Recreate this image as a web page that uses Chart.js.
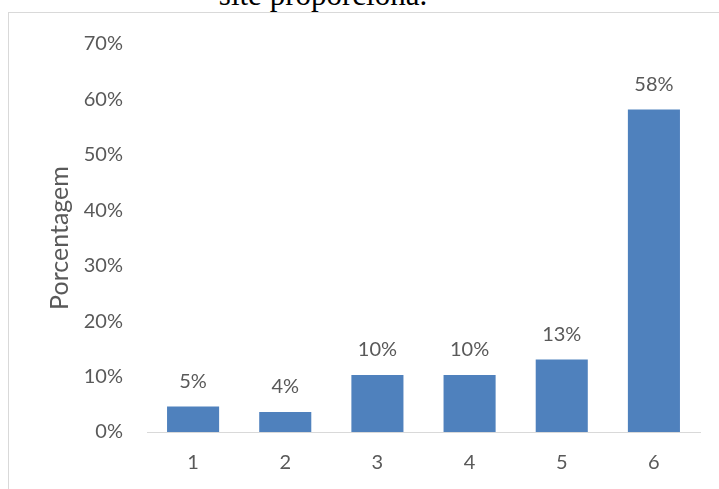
<!DOCTYPE html>
<html>
<head>
<meta charset="utf-8">
<script src="https://cdn.jsdelivr.net/npm/chart.js@4/dist/chart.umd.min.js"></script>
<style>
  html, body { margin: 0; padding: 0; background: #fff; overflow: hidden; }
  #wrap { position: relative; width: 719px; height: 489px; overflow: hidden; }
  #frame {
    position: absolute; left: 8px; top: 12px; width: 740px; height: 520px;
    border: 1px solid #D9D9D9; box-sizing: border-box;
  }
  #caption {
    position: absolute; left: 0; width: 646px; top: -23px; text-align: center;
    font-family: "Liberation Serif", "Times New Roman", serif; font-size: 31px;
    line-height: 36px; color: #000; white-space: nowrap;
  }
  #c { position: absolute; left: 0; top: 0; }
</style>
</head>
<body>
<div id="wrap">
  <div id="caption">site proporciona.</div>
  <div id="frame"></div>
  <canvas id="c" width="719" height="489"></canvas>
</div>
<script>
// Categories on the x axis and the share (in %) for each one
const categories = ['1', '2', '3', '4', '5', '6'];
const percentages = [4.6, 3.6, 10.3, 10.3, 13.1, 58.2];
const yTicks = [0, 10, 20, 30, 40, 50, 60, 70];
const yAxisTitle = 'Porcentagem';

const textColor = '#595959';
const fontFamily = 'Lato, "Open Sans", sans-serif';

// Writes the rounded percentage above each bar
const barValueLabels = {
  id: 'barValueLabels',
  afterDatasetsDraw(chart) {
    const ctx = chart.ctx;
    const meta = chart.getDatasetMeta(0);
    const data = chart.data.datasets[0].data;
    ctx.save();
    ctx.fillStyle = textColor;
    ctx.font = '20px ' + fontFamily;
    ctx.textAlign = 'center';
    ctx.textBaseline = 'middle';
    meta.data.forEach((bar, i) => {
      ctx.fillText(Math.round(data[i]) + '%', bar.x, bar.y - 25);
    });
    ctx.restore();
  }
};

new Chart(document.getElementById('c'), {
  type: 'bar',
  data: {
    labels: categories,
    datasets: [{
      data: percentages,
      backgroundColor: '#4F81BD',
      borderWidth: 0,
      barPercentage: 0.565,
      categoryPercentage: 1.0
    }]
  },
  options: {
    responsive: false,
    animation: false,
    devicePixelRatio: 1,
    layout: { padding: { left: 45, top: 44, right: 19, bottom: 0 } },
    plugins: {
      legend: { display: false },
      tooltip: { enabled: false },
      title: { display: false }
    },
    scales: {
      x: {
        grid: { display: false, drawTicks: false },
        border: { display: true, color: '#D9D9D9', width: 1 },
        ticks: { color: textColor, font: { family: fontFamily, size: 20 }, padding: 19 },
        afterFit(scale) { scale.height = 57; }
      },
      y: {
        min: 0,
        max: 70,
        afterBuildTicks(scale) { scale.ticks = yTicks.map(v => ({ value: v })); },
        grid: { display: false, drawTicks: false },
        border: { display: false },
        ticks: {
          color: textColor,
          font: { family: fontFamily, size: 20 },
          padding: 24,
          callback: v => v + '%'
        },
        title: {
          display: true,
          text: yAxisTitle,
          color: textColor,
          font: { family: fontFamily, size: 25 },
          padding: { top: 0, bottom: 0 }
        },
        afterFit(scale) { scale.width = 102; }
      }
    }
  },
  plugins: [barValueLabels]
});
</script>
</body>
</html>
